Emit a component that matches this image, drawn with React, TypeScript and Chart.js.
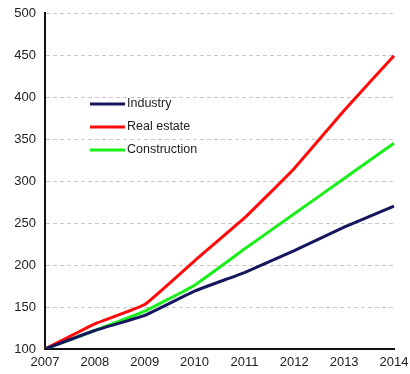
import React, { useEffect, useRef } from "react";
import { Chart, registerables } from "chart.js";

Chart.register(...registerables);

const years = ["2007", "2008", "2009", "2010", "2011", "2012", "2013", "2014"];
const industry = [100, 122, 140, 169, 191, 217, 245, 270];
const realEstate = [100, 130, 153, 205, 256, 315, 384, 449];
const construction = [100, 122, 145, 176, 219, 261, 303, 345];
const seriesNames = ["Industry", "Real estate", "Construction"];
const seriesColors = ["#15165e", "#ff0a0a", "#19f019"];

const legendPlugin = {
  id: "innerLegend",
  afterDatasetsDraw(chart: any) {
    const ctx = chart.ctx;
    ctx.save();
    ctx.font = "12.5px 'Liberation Sans', Arial, sans-serif";
    ctx.textBaseline = "middle";
    ctx.fillStyle = "#222";
    chart.data.datasets.forEach((ds: any, i: number) => {
      const y = 104 + i * 23;
      ctx.strokeStyle = ds.borderColor;
      ctx.lineWidth = 3;
      ctx.beginPath();
      ctx.moveTo(90, y);
      ctx.lineTo(125, y);
      ctx.stroke();
      ctx.fillText(ds.label, 127, y);
    });
    ctx.restore();
  },
};

export default function App() {
  const ref = useRef<HTMLCanvasElement>(null);
  useEffect(() => {
    document.body.style.margin = "0";
    const values = [industry, realEstate, construction];
    const chart = new Chart(ref.current!, {
      type: "line",
      data: {
        labels: years,
        datasets: values.map((v, i) => ({
          label: seriesNames[i],
          data: v,
          borderColor: seriesColors[i],
          backgroundColor: seriesColors[i],
          borderWidth: 3,
          pointRadius: 0,
          tension: 0.1,
          fill: false,
        })),
      },
      options: {
        animation: false,
        responsive: false,
        maintainAspectRatio: false,
        layout: { padding: { top: 13, right: 16, left: 0, bottom: 0 } },
        plugins: { legend: { display: false }, tooltip: { enabled: false } },
        scales: {
          x: {
            type: "category",
            offset: false,
            afterFit: (s: any) => {
              s.height = 25;
              s.paddingRight = 0;
              s.paddingLeft = 0;
            },
            grid: { display: false, drawTicks: false },
            border: { display: true, color: "#111", width: 2 },
            ticks: {
              padding: 6,
              color: "#222",
              maxRotation: 0,
              autoSkip: false,
              font: { family: "'Liberation Sans', Arial, sans-serif", size: 13 },
            },
          },
          y: {
            min: 100,
            max: 500,
            afterFit: (s: any) => {
              s.width = 45;
              s.paddingTop = 0;
              s.paddingBottom = 0;
            },
            grid: { color: "#c8c8c8", drawTicks: false, lineWidth: 1 },
            border: { display: true, color: "#111", width: 2, dash: [4, 3] },
            ticks: {
              stepSize: 50,
              padding: 9,
              color: "#222",
              font: { family: "'Liberation Sans', Arial, sans-serif", size: 13 },
            },
          },
        },
      },
      plugins: [legendPlugin],
    });
    return () => chart.destroy();
  }, []);
  return <canvas ref={ref} width={410} height={374} style={{ display: "block" }} />;
}
